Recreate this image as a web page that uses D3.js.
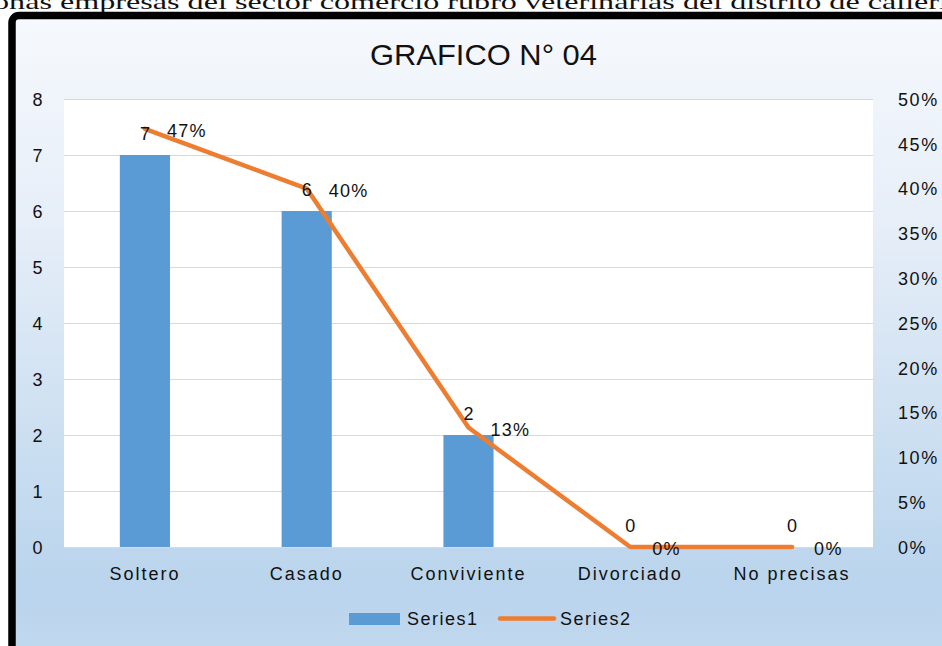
<!DOCTYPE html>
<html>
<head>
<meta charset="utf-8">
<script src="https://cdn.jsdelivr.net/npm/d3@7"></script>
<style>
  body { margin: 0; background: #fff; }
  svg text { font-family: "Liberation Sans", Arial, sans-serif; fill: #111; }
</style>
</head>
<body>
<div id="chart"></div>
<script>
// Data
const categories = ['Soltero', 'Casado', 'Conviviente', 'Divorciado', 'No precisas'];
const series1 = [7, 6, 2, 0, 0];
const series2 = [0.4667, 0.40, 0.1333, 0, 0];
const series2Labels = ['47%', '40%', '13%', '0%', '0%'];
const leftTicks = [0, 1, 2, 3, 4, 5, 6, 7, 8];
const rightTicks = [0, 0.05, 0.1, 0.15, 0.2, 0.25, 0.3, 0.35, 0.4, 0.45, 0.5];

const WIDTH = 942;
const HEIGHT = 646;
const PLOT = { left: 64, right: 873, top: 99, bottom: 547 };
const BLUE = '#5b9bd5';
const ORANGE = '#ed7d31';
const FONT_SIZE = '18px';

const svg = d3.select('#chart')
  .append('svg')
  .attr('width', WIDTH)
  .attr('height', HEIGHT);

// background gradient for the chart area
const grad = svg.append('defs')
  .append('linearGradient')
  .attr('id', 'bg')
  .attr('x1', 0).attr('y1', 0).attr('x2', 0).attr('y2', 1);
grad.append('stop').attr('offset', '0%').attr('stop-color', '#f6f9fd');
grad.append('stop').attr('offset', '30%').attr('stop-color', '#e6eef8');
grad.append('stop').attr('offset', '82%').attr('stop-color', '#b9d4ec');
grad.append('stop').attr('offset', '100%').attr('stop-color', '#c9ddf1');

// line of text above the chart, cut off by the page edge in the original
svg.append('text')
  .attr('x', -7)
  .attr('y', 9)
  .attr('textLength', 955)
  .attr('lengthAdjust', 'spacingAndGlyphs')
  .style('font-family', '"Liberation Serif", "Times New Roman", serif')
  .style('font-size', '21px')
  .text('onas empresas del sector comercio rubro veterinarias del distrito de calleri');

// chart frame
svg.append('rect')
  .attr('x', 12)
  .attr('y', 15.5)
  .attr('width', 960)
  .attr('height', 700)
  .attr('rx', 7)
  .attr('fill', 'url(#bg)')
  .attr('stroke', '#000')
  .attr('stroke-width', 7.5);

// plot area
svg.append('rect')
  .attr('x', PLOT.left)
  .attr('y', PLOT.top)
  .attr('width', PLOT.right - PLOT.left)
  .attr('height', PLOT.bottom - PLOT.top)
  .attr('fill', '#fff');

// scales
const xScale = d3.scaleBand()
  .domain(categories)
  .range([PLOT.left, PLOT.right])
  .paddingInner(0.69)
  .paddingOuter(0.345);

const yLeft = d3.scaleLinear()
  .domain([0, 8])
  .range([PLOT.bottom, PLOT.top]);

const yRight = d3.scaleLinear()
  .domain([0, 0.5])
  .range([PLOT.bottom, PLOT.top]);

const cx = d => xScale(d) + xScale.bandwidth() / 2;

// gridlines
svg.append('g')
  .selectAll('line')
  .data(leftTicks)
  .join('line')
  .attr('x1', PLOT.left)
  .attr('x2', PLOT.right)
  .attr('y1', d => Math.round(yLeft(d)) + 0.5)
  .attr('y2', d => Math.round(yLeft(d)) + 0.5)
  .attr('stroke', '#d9d9d9')
  .attr('stroke-width', 1.2);

// axes
const axisStyle = g => {
  g.select('.domain').remove();
  g.selectAll('text')
    .style('font-size', FONT_SIZE)
    .style('letter-spacing', '1.6px')
    .attr('fill', '#111');
};

svg.append('g')
  .attr('transform', `translate(${PLOT.left - 20}, 0)`)
  .call(d3.axisLeft(yLeft).tickValues(leftTicks).tickSize(0).tickPadding(0))
  .call(axisStyle)
  .selectAll('text').attr('dy', '0.35em');

svg.append('g')
  .attr('transform', `translate(${PLOT.right + 25}, 0)`)
  .call(d3.axisRight(yRight).tickValues(rightTicks).tickSize(0).tickPadding(0)
    .tickFormat(d3.format('.0%')))
  .call(axisStyle)
  .selectAll('text').attr('dy', '0.35em');

svg.append('g')
  .attr('transform', `translate(0, ${PLOT.bottom + 19})`)
  .call(d3.axisBottom(xScale).tickSize(0).tickPadding(0))
  .call(axisStyle)
  .selectAll('text')
  .attr('dy', '0.8em')
  .style('letter-spacing', '2px');

// bars
svg.append('g')
  .selectAll('rect')
  .data(categories)
  .join('rect')
  .attr('x', d => xScale(d))
  .attr('width', xScale.bandwidth())
  .attr('y', (d, i) => yLeft(series1[i]))
  .attr('height', (d, i) => yLeft(0) - yLeft(series1[i]))
  .attr('fill', BLUE);

// line
const line = d3.line()
  .x((d, i) => cx(categories[i]))
  .y(d => yRight(d));

svg.append('path')
  .datum(series2)
  .attr('d', line)
  .attr('fill', 'none')
  .attr('stroke', ORANGE)
  .attr('stroke-width', 4.5)
  .attr('stroke-linejoin', 'round')
  .attr('stroke-linecap', 'round');

// bar labels
svg.append('g')
  .selectAll('text')
  .data(categories)
  .join('text')
  .attr('x', d => cx(d))
  .attr('y', (d, i) => yLeft(series1[i]) - 21)
  .attr('dy', '0.35em')
  .attr('text-anchor', 'middle')
  .style('font-size', FONT_SIZE)
  .text((d, i) => series1[i]);

// line labels
svg.append('g')
  .selectAll('text')
  .data(categories)
  .join('text')
  .attr('x', d => cx(d) + 22)
  .attr('y', (d, i) => yRight(series2[i]) + 2)
  .attr('dy', '0.35em')
  .style('font-size', FONT_SIZE)
  .style('letter-spacing', '1.3px')
  .text((d, i) => series2Labels[i]);

// title
svg.append('text')
  .attr('x', 370)
  .attr('y', 65)
  .attr('textLength', 227)
  .attr('lengthAdjust', 'spacingAndGlyphs')
  .style('font-size', '29px')
  .text('GRAFICO N° 04');

// legend
const legend = svg.append('g');
legend.append('rect')
  .attr('x', 349).attr('y', 613)
  .attr('width', 51).attr('height', 12)
  .attr('fill', BLUE);
legend.append('text')
  .attr('x', 407).attr('y', 619).attr('dy', '0.35em')
  .style('font-size', FONT_SIZE).style('letter-spacing', '1.5px')
  .text('Series1');
legend.append('line')
  .attr('x1', 500).attr('x2', 554)
  .attr('y1', 618.5).attr('y2', 618.5)
  .attr('stroke', ORANGE).attr('stroke-width', 4.5)
  .attr('stroke-linecap', 'round');
legend.append('text')
  .attr('x', 560).attr('y', 619).attr('dy', '0.35em')
  .style('font-size', FONT_SIZE).style('letter-spacing', '1.5px')
  .text('Series2');
</script>
</body>
</html>
